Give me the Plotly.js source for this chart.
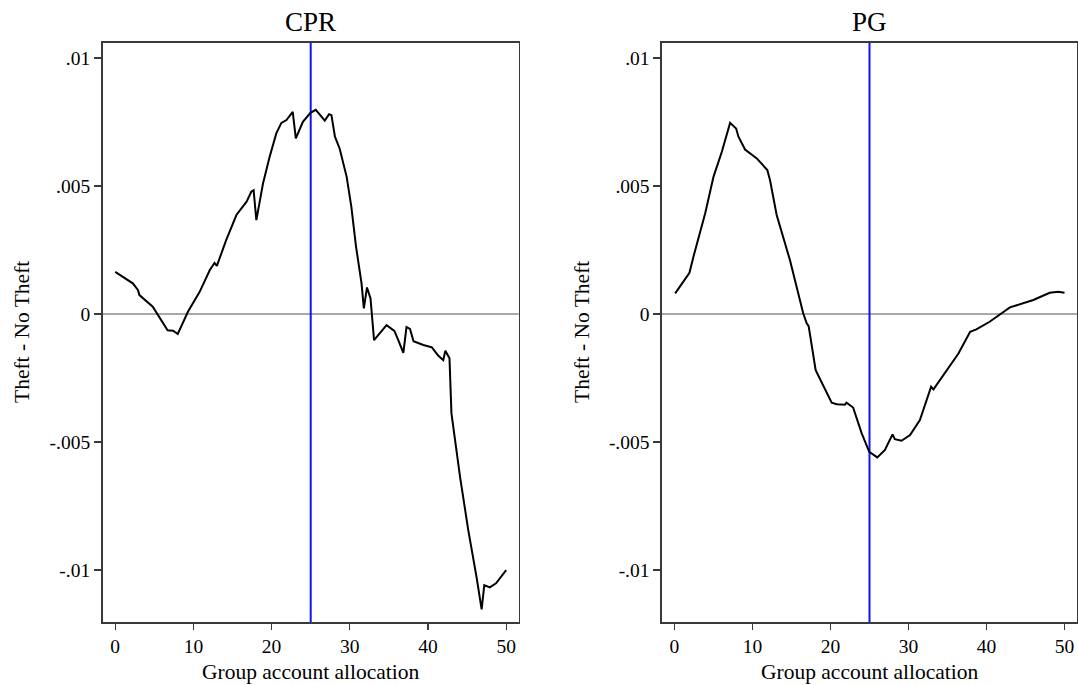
<!DOCTYPE html>
<html>
<head>
<meta charset="utf-8">
<script src="https://cdn.plot.ly/plotly-3.0.1.min.js"></script>
<style>html,body{margin:0;padding:0;background:#fff;}#chart{width:1078px;height:685px;}</style>
</head>
<body>
<div id="chart"></div>
<script>
// CPR panel
const cprX = [0, 2.25, 2.9, 3.1, 4.8, 6.7, 7.4, 8.0, 9.3, 10.8, 12.1, 12.7, 13.0, 14.2, 15.5, 16.8, 17.4, 17.7, 18.05, 18.9, 19.75, 20.6, 21.25, 21.9, 22.7, 23.1, 24.0, 24.97, 25.65, 26.8, 27.35, 27.65, 28.1, 28.7, 29.6, 30.2, 30.8, 31.5, 31.8, 32.2, 32.65, 33.1, 34.7, 35.7, 36.2, 36.85, 37.25, 37.7, 38.15, 39.4, 40.5, 41.3, 41.95, 42.22, 42.75, 43.0, 44.1, 45.15, 46.2, 46.86, 47.2, 47.9, 48.7, 50.0];
const cprY = [0.00165, 0.0012, 0.00094, 0.00074, 0.00029, -0.00063, -0.00065, -0.00078, 0.00009, 0.00087, 0.00172, 0.0020, 0.00188, 0.0029, 0.00387, 0.00439, 0.00478, 0.00484, 0.00367, 0.0051, 0.00615, 0.00706, 0.00747, 0.00758, 0.0079, 0.00686, 0.00751, 0.00786, 0.00798, 0.00756, 0.00781, 0.00777, 0.00693, 0.00647, 0.00536, 0.00419, 0.00263, 0.0012, 0.00022, 0.00104, 0.00061, -0.00102, -0.00043, -0.00066, -0.00102, -0.00152, -0.00051, -0.00058, -0.00106, -0.00121, -0.0013, -0.00162, -0.00180, -0.00143, -0.00173, -0.00388, -0.00636, -0.00844, -0.01026, -0.01154, -0.01059, -0.01068, -0.01052, -0.0100];
// PG panel
const pgX = [0.09, 1.92, 2.43, 3.93, 5.0, 6.07, 7.13, 7.9, 8.2, 9.05, 10.55, 11.9, 12.25, 13.1, 14.8, 16.5, 16.95, 17.2, 18.1, 19.1, 20.15, 20.8, 21.85, 22.05, 22.9, 24.0, 24.97, 26.0, 26.98, 27.95, 28.25, 29.1, 30.2, 31.46, 32.9, 33.2, 34.9, 36.4, 37.9, 38.7, 40.4, 42.05, 43.0, 46.0, 48.1, 49.2, 50.0];
const pgY = [0.00081, 0.00161, 0.00224, 0.00393, 0.00536, 0.00634, 0.00747, 0.00725, 0.00693, 0.00643, 0.00608, 0.00563, 0.00523, 0.00387, 0.00211, 0.00003, -0.00036, -0.00047, -0.00219, -0.00284, -0.00346, -0.00352, -0.00354, -0.00346, -0.00365, -0.00466, -0.00538, -0.0056, -0.00531, -0.0047, -0.00489, -0.00495, -0.00473, -0.00414, -0.00284, -0.00294, -0.00219, -0.00154, -0.00069, -0.0006, -0.0003, 0.00005, 0.00026, 0.00055, 0.00083, 0.00087, 0.00083];

const panelTitles = ["CPR", "PG"];
const xTicks = [0, 10, 20, 30, 40, 50];
const yTicks = [-0.01, -0.005, 0, 0.005, 0.01];
const yTickText = ["-.01", "-.005", "0", ".005", ".01"];
const refX = 25;
const refY = 0;
const xTitle = "Group account allocation";
const yTitle = "Theft - No Theft";

const font = "Liberation Serif, Times New Roman, serif";
const frameColor = "#3a3a3a";

function xAxis(domain, anchor) {
  return {
    domain: domain, anchor: anchor, range: [-1.6, 51.6],
    tickvals: xTicks, ticktext: xTicks.map(String),
    ticks: "outside", ticklen: 6, tickwidth: 1.3, tickcolor: frameColor,
    showline: true, linecolor: frameColor, linewidth: 1.6, mirror: true,
    showgrid: false, zeroline: false,
    tickfont: {family: font, size: 19.5, color: "#000"}
  };
}
function yAxis(domain, anchor) {
  return {
    domain: domain, anchor: anchor, range: [-0.01203, 0.01059],
    tickvals: yTicks, ticktext: yTickText,
    ticks: "outside", ticklen: 7, tickwidth: 1.3, tickcolor: frameColor,
    showline: true, linecolor: frameColor, linewidth: 1.6, mirror: true,
    showgrid: false, zeroline: false,
    tickfont: {family: font, size: 19.5, color: "#000"}
  };
}

const yDom = [1 - 622 / 685, 1 - 43 / 685];
const x1Dom = [102.7 / 1078, 518.7 / 1078];
const x2Dom = [662 / 1078, 1077 / 1078];

const traces = [
  {x: cprX, y: cprY, xaxis: "x", yaxis: "y", mode: "lines", line: {color: "#000", width: 2}, hoverinfo: "skip"},
  {x: pgX, y: pgY, xaxis: "x2", yaxis: "y2", mode: "lines", line: {color: "#000", width: 2}, hoverinfo: "skip"}
];

const shapes = [];
[["x", "y"], ["x2", "y2"]].forEach(([xa, ya]) => {
  shapes.push({type: "line", xref: xa + " domain", yref: ya, x0: 0, x1: 1, y0: refY, y1: refY, line: {color: "#8c8c8c", width: 1.6}, layer: "below"});
  shapes.push({type: "line", xref: xa, yref: ya + " domain", x0: refX, x1: refX, y0: 0, y1: 1, line: {color: "#1010ff", width: 2}, layer: "below"});
});

const annotations = [];
[x1Dom, x2Dom].forEach((dom, i) => {
  const cx = (dom[0] + dom[1]) / 2;
  annotations.push({text: panelTitles[i], xref: "paper", yref: "paper", x: cx, y: 1 - 22 / 685, xanchor: "center", yanchor: "middle", showarrow: false, font: {family: font, size: 27, color: "#000"}});
  annotations.push({text: xTitle, xref: "paper", yref: "paper", x: cx, y: 1 - 672 / 685, xanchor: "center", yanchor: "middle", showarrow: false, font: {family: font, size: 21.5, color: "#000"}});
});
[22, 582].forEach(px => {
  annotations.push({text: yTitle, xref: "paper", yref: "paper", x: px / 1078, y: 1 - 332 / 685, xanchor: "center", yanchor: "middle", textangle: -90, showarrow: false, font: {family: font, size: 21.5, color: "#000"}});
});

const layout = {
  width: 1078, height: 685,
  margin: {l: 0, r: 0, t: 0, b: 0},
  paper_bgcolor: "#fff", plot_bgcolor: "#fff",
  showlegend: false,
  xaxis: xAxis(x1Dom, "y"),
  yaxis: yAxis(yDom, "x"),
  xaxis2: xAxis(x2Dom, "y2"),
  yaxis2: yAxis(yDom, "x2"),
  shapes: shapes,
  annotations: annotations
};

Plotly.newPlot("chart", traces, layout, {staticPlot: true, displayModeBar: false});
</script>
</body>
</html>
